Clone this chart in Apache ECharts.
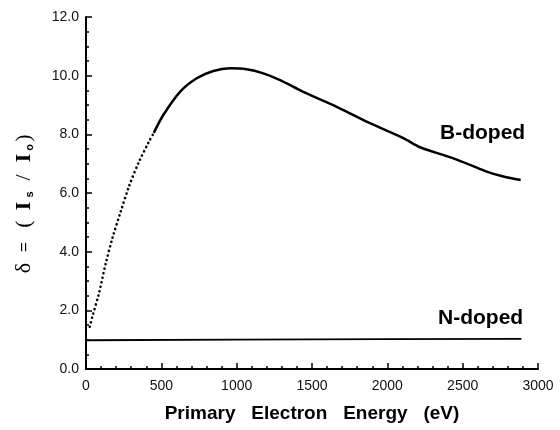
<!DOCTYPE html>
<html>
<head>
<meta charset="utf-8">
<script src="https://cdn.jsdelivr.net/npm/echarts@6/dist/echarts.min.js"></script>
<style>
  html, body { margin: 0; padding: 0; background: #fff; }
  #chart { width: 560px; height: 430px; }
</style>
</head>
<body>
<div id="chart"></div>
<script>
// B-doped, low energy part (drawn dotted)
const bDotEnergy = [25, 42, 86, 131, 175, 230, 285, 352, 418, 450]
const bDotYield = [1.44, 1.78, 2.58, 3.6, 4.46, 5.36, 6.22, 7.07, 7.75, 8.05]
// B-doped, rest of the curve (solid)
const bEnergy = [450, 513, 624, 735, 845, 956, 1066, 1177, 1288, 1442, 1664, 1885, 2106, 2217, 2327, 2438, 2549, 2659, 2770, 2885]
const bYield = [8.05, 8.66, 9.45, 9.91, 10.16, 10.25, 10.22, 10.08, 9.85, 9.45, 8.94, 8.38, 7.87, 7.56, 7.37, 7.18, 6.96, 6.73, 6.56, 6.44]
// N-doped
const nEnergy = [0, 1000, 2000, 2890]
const nYield = [0.98, 1.0, 1.02, 1.03]

const pairs = (xs, ys) => xs.map((x, i) => [x, ys[i]])

const chart = echarts.init(document.getElementById('chart'))
chart.setOption({
  animation: false,
  backgroundColor: '#fff',
  grid: { left: 86, right: 22, top: 17, bottom: 61 },
  xAxis: {
    type: 'value',
    min: 0,
    max: 3000,
    interval: 500,
    name: 'Primary   Electron   Energy   (eV)',
    nameLocation: 'middle',
    nameGap: 35,
    nameTextStyle: { fontFamily: 'Liberation Sans', fontWeight: 'bold', fontSize: 19, color: '#000' },
    axisLine: { lineStyle: { color: '#000', width: 2 } },
    axisTick: { inside: true, length: 6, lineStyle: { color: '#000', width: 1.5 } },
    minorTick: { show: true, splitNumber: 5, length: 3, lineStyle: { color: '#000', width: 1.5 } },
    splitLine: { show: false },
    axisLabel: { fontFamily: 'Liberation Sans', fontSize: 14, color: '#111', margin: 10, formatter: v => String(v) }
  },
  yAxis: {
    type: 'value',
    min: 0,
    max: 12,
    interval: 2,
    name: '{d|δ}{e|=}{p|(}{b|I}{s|s}{sl|/}{b|I}{o|o}{q|)}',
    nameLocation: 'middle',
    nameRotate: 90,
    nameGap: 51,
    nameTextStyle: {
      color: '#000',
      padding: [0, 23, 0, 0],
      rich: {
        d: { fontFamily: 'Liberation Serif', fontSize: 22, color: '#000', width: 18, align: 'center' },
        e: { fontFamily: 'Liberation Sans', fontSize: 17, color: '#000', width: 24, align: 'center' },
        p: { fontFamily: 'Liberation Serif', fontSize: 22, color: '#000', width: 22, align: 'center' },
        q: { fontFamily: 'Liberation Serif', fontSize: 22, color: '#000', width: 12, align: 'center' },
        b: { fontFamily: 'Liberation Serif', fontWeight: 'bold', fontSize: 22, color: '#000', width: 14, align: 'center' },
        sl: { fontFamily: 'Liberation Serif', fontSize: 22, color: '#000', width: 25, align: 'center' },
        s: { fontFamily: 'Liberation Sans', fontWeight: 'bold', fontSize: 11, color: '#000', width: 9, align: 'center', verticalAlign: 'bottom', padding: [11, 0, 0, 0] },
        o: { fontFamily: 'Liberation Sans', fontWeight: 'bold', fontSize: 11, color: '#000', width: 7, align: 'center', verticalAlign: 'bottom', padding: [11, 0, 0, 0] }
      }
    },
    axisLine: { show: true, lineStyle: { color: '#000', width: 2 } },
    axisTick: { show: true, inside: true, length: 6, lineStyle: { color: '#000', width: 1.5 } },
    minorTick: { show: true, splitNumber: 4, length: 3, lineStyle: { color: '#000', width: 1.5 } },
    splitLine: { show: false },
    axisLabel: { fontFamily: 'Liberation Sans', fontSize: 14, color: '#111', margin: 7, formatter: v => v.toFixed(1) }
  },
  series: [
    {
      name: 'B-doped dotted',
      type: 'line',
      smooth: 0.3,
      symbol: 'none',
      data: pairs(bDotEnergy, bDotYield),
      lineStyle: { color: '#000', width: 2.6, type: [0.1, 4.5], cap: 'round' }
    },
    {
      name: 'B-doped',
      type: 'line',
      smooth: 0.3,
      symbol: 'none',
      data: pairs(bEnergy, bYield),
      lineStyle: { color: '#000', width: 2.5 }
    },
    {
      name: 'N-doped',
      type: 'line',
      symbol: 'none',
      data: pairs(nEnergy, nYield),
      lineStyle: { color: '#000', width: 1.8 }
    }
  ],
  graphic: [
    { type: 'text', left: 440, top: 123, style: { text: 'B-doped', font: 'bold 21px "Liberation Sans"', fill: '#000' } },
    { type: 'text', left: 438, top: 308, style: { text: 'N-doped', font: 'bold 21px "Liberation Sans"', fill: '#000' } }
  ]
})
</script>
</body>
</html>
